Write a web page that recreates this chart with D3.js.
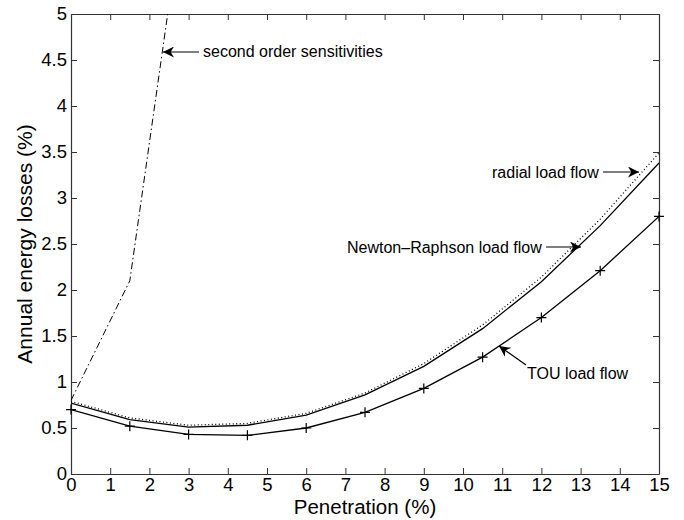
<!DOCTYPE html>
<html>
<head>
<script src="https://d3js.org/d3.v7.min.js"></script>
<style>
  body { margin: 0; background: #fff; }
  text { font-family: "Liberation Sans", Arial, sans-serif; fill: #000; }
</style>
</head>
<body>
<script>
// penetration steps and loss curves (%)
var penetration = [0, 1.5, 3, 4.5, 6, 7.5, 9, 10.5, 12, 13.5, 15];
var touLoss     = [0.70, 0.52, 0.43, 0.42, 0.50, 0.67, 0.93, 1.27, 1.70, 2.21, 2.80];
var nrLoss      = [0.77, 0.59, 0.51, 0.53, 0.64, 0.86, 1.17, 1.58, 2.09, 2.70, 3.38];
var radialLoss  = [0.79, 0.61, 0.53, 0.55, 0.66, 0.88, 1.20, 1.62, 2.14, 2.77, 3.49];
var secondOrder = [0.80, 2.10, 6.60];
var xTicks = d3.range(0, 16, 1);
var yTicks = [0, 0.5, 1, 1.5, 2, 2.5, 3, 3.5, 4, 4.5, 5];

var width = 684, height = 520;
var margin = { top: 14, right: 25, bottom: 46, left: 71 };

var svg = d3.select("body").append("svg")
    .attr("width", width)
    .attr("height", height);

var x = d3.scaleLinear().domain([0, 15]).range([margin.left, width - margin.right]);
var y = d3.scaleLinear().domain([0, 5]).range([height - margin.bottom, margin.top]);

svg.append("defs").append("clipPath").attr("id", "plot")
  .append("rect")
    .attr("x", x(0)).attr("y", y(5))
    .attr("width", x(15) - x(0)).attr("height", y(0) - y(5));

svg.append("defs").append("marker")
    .attr("id", "head")
    .attr("viewBox", "0 0 10 10")
    .attr("refX", 10).attr("refY", 5)
    .attr("markerWidth", 11).attr("markerHeight", 11)
    .attr("markerUnits", "userSpaceOnUse")
    .attr("orient", "auto")
  .append("path")
    .attr("d", "M0,0 L10,5 L0,10 L3,5 Z")
    .attr("fill", "#000");

// axes with inward ticks on all four sides
var axisColor = "#333";
function styleAxis(g) {
  g.select(".domain").attr("stroke", axisColor).attr("stroke-width", 1.2);
  g.selectAll(".tick line").attr("stroke", axisColor);
  g.selectAll(".tick text").attr("font-size", 18.5).attr("font-family", "Liberation Sans, Arial, sans-serif").attr("fill", "#000");
}

svg.append("g")
    .attr("transform", "translate(0," + y(0) + ")")
    .call(d3.axisBottom(x).tickValues(xTicks).tickSizeInner(-6).tickSizeOuter(0).tickPadding(4))
    .call(styleAxis);
svg.append("g")
    .attr("transform", "translate(0," + y(5) + ")")
    .call(d3.axisTop(x).tickValues(xTicks).tickSizeInner(-6).tickSizeOuter(0).tickFormat(""))
    .call(styleAxis);
svg.append("g")
    .attr("transform", "translate(" + x(0) + ",0)")
    .call(d3.axisLeft(y).tickValues(yTicks).tickSizeInner(-6).tickSizeOuter(0).tickPadding(4).tickFormat(d3.format("")))
    .call(styleAxis);
svg.append("g")
    .attr("transform", "translate(" + x(15) + ",0)")
    .call(d3.axisRight(y).tickValues(yTicks).tickSizeInner(-6).tickSizeOuter(0).tickFormat(""))
    .call(styleAxis);

function lineOf(vals) {
  return d3.line()
    .x(function (d, i) { return x(penetration[i]); })
    .y(function (d) { return y(d); })(vals);
}

var plot = svg.append("g").attr("clip-path", "url(#plot)");

plot.append("path").attr("d", lineOf(secondOrder))
    .attr("fill", "none").attr("stroke", "#000").attr("stroke-width", 1)
    .attr("stroke-dasharray", "7,3,1.5,3");
plot.append("path").attr("d", lineOf(radialLoss))
    .attr("fill", "none").attr("stroke", "#000").attr("stroke-width", 1.3)
    .attr("stroke-dasharray", "1,2.5");
plot.append("path").attr("d", lineOf(nrLoss))
    .attr("fill", "none").attr("stroke", "#000").attr("stroke-width", 1.3);
plot.append("path").attr("d", lineOf(touLoss))
    .attr("fill", "none").attr("stroke", "#000").attr("stroke-width", 1.3);

// + markers on TOU curve
svg.append("g").selectAll("path.plus")
  .data(touLoss)
  .join("path")
    .attr("class", "plus")
    .attr("d", function (d, i) {
      var cx = x(penetration[i]), cy = y(d);
      return "M" + (cx - 5) + "," + cy + "H" + (cx + 5) + "M" + cx + "," + (cy - 5) + "V" + (cy + 5);
    })
    .attr("stroke", "#000").attr("stroke-width", 1.2);

// annotations
function arrow(x1, y1, x2, y2) {
  svg.append("line")
    .attr("x1", x1).attr("y1", y1).attr("x2", x2).attr("y2", y2)
    .attr("stroke", "#000").attr("stroke-width", 1.2)
    .attr("marker-end", "url(#head)");
}
function note(tx, ty, label) {
  svg.append("text").attr("x", tx).attr("y", ty).attr("font-size", 16).text(label);
}

note(203, 57, "second order sensitivities");
arrow(199, 52, 163, 52);

note(492, 178, "radial load flow");
arrow(603, 172, 639, 172);

note(347, 253, "Newton\u2013Raphson load flow");
arrow(546, 247, 581, 247);

note(527, 379, "TOU load flow");
arrow(526, 365, 499, 346);

// axis titles
svg.append("text")
    .attr("x", (x(0) + x(15)) / 2)
    .attr("y", 514)
    .attr("text-anchor", "middle")
    .attr("font-size", 20.5)
    .text("Penetration (%)");

svg.append("text")
    .attr("transform", "translate(32," + ((y(0) + y(5)) / 2) + ") rotate(-90)")
    .attr("text-anchor", "middle")
    .attr("font-size", 21)
    .text("Annual energy losses (%)");
</script>
</body>
</html>
